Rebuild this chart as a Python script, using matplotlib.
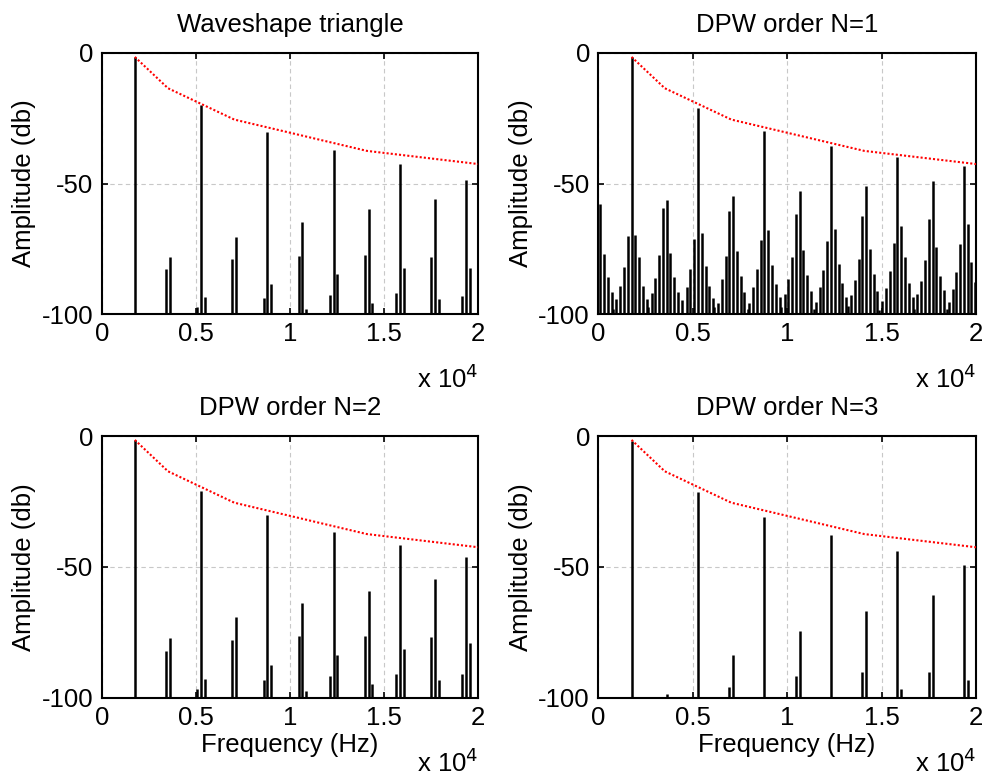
import matplotlib
matplotlib.use("Agg")
import matplotlib.pyplot as plt
from matplotlib.ticker import FuncFormatter, FixedLocator

plt.rcParams['font.family'] = ['Liberation Sans', 'DejaVu Sans']

titles = ["Waveshape triangle", "DPW order N=1", "DPW order N=2", "DPW order N=3"]

# Envelope (red dotted)
env_freq = [1760, 3520, 7040, 14080, 28160]
env_db = [-1.5, -13.5, -25.5, -37.5, -49.5]

# Panel 1: waveshaped triangle
tri_freq = [1760, 3420, 3620, 5080, 5280, 5480, 6940, 7140, 8600, 8800, 9000,
            10460, 10660, 10860, 12120, 12320, 12520, 13980, 14180, 14380,
            15640, 15840, 16040, 17500, 17700, 17900, 19160, 19360, 19560]
tri_db = [-1.4, -82.9, -78.3, -97.2, -19.9, -93.6, -78.9, -70.4, -94.0, -30.3, -88.5,
          -77.7, -64.6, -98.2, -92.6, -37.2, -84.8, -77.4, -59.9, -95.7,
          -92.1, -42.5, -82.4, -78.0, -55.8, -94.1, -93.2, -48.8, -82.5]

# Panel 2: DPW N=1
dpw1_freq = [100, 300, 500, 700, 780, 960, 1160, 1360, 1560, 1760, 1960, 2160, 2360,
             2560, 2620, 2820, 3020, 3220, 3420, 3620, 3820, 4020, 4220, 4420, 4680,
             4880, 5080, 5280, 5480, 5680, 5880, 6080, 6140, 6340, 6540, 6740, 6940,
             7140, 7340, 7540, 7740, 7940, 8000, 8200, 8400, 8600, 8800, 9000, 9200,
             9400, 9600, 9700, 9860, 10060, 10260, 10460, 10660, 10860, 11060, 11260,
             11440, 11520, 11720, 11920, 12120, 12320, 12520, 12720, 12920, 13120,
             13200, 13380, 13580, 13780, 13980, 14180, 14380, 14580, 14780, 14860,
             15040, 15240, 15440, 15640, 15840, 16040, 16240, 16440, 16640, 16700,
             16900, 17100, 17300, 17500, 17700, 17900, 18100, 18300, 18480, 18560,
             18760, 18960, 19160, 19360, 19560, 19760, 19960]
dpw1_db = [-57.7, -76.9, -85.9, -91.7, -98.0, -94.2, -89.1, -82.1, -70.3, -1.7, -69.6, -78.2, -89.1,
           -94.2, -97.4, -91.9, -86.2, -77.3, -59.2, -56.4, -76.7, -86.0, -91.7, -94.5, -89.5,
           -82.7, -71.2, -20.9, -69.0, -81.7, -89.1, -94.0, -97.4, -95.8, -86.5, -77.9, -60.5,
           -54.7, -75.9, -85.5, -91.5, -98.0, -95.6, -89.7, -82.7, -71.5, -29.8, -67.9, -81.2,
           -88.5, -93.6, -97.4, -92.3, -86.5, -78.2, -61.5, -52.9, -75.4, -84.9, -91.0,
           -98.0, -95.5, -89.7, -83.1, -72.1, -35.7, -67.3, -80.8, -88.2, -93.3,
           -97.0, -92.6, -87.0, -78.8, -62.6, -51.0, -75.0, -84.6, -91.0, -98.5,
           -95.1, -90.0, -83.6, -72.8, -40.0, -66.4, -78.0, -88.0, -93.6, -98.0,
           -92.3, -87.2, -79.2, -63.7, -49.0, -74.4, -85.3, -90.8, -98.0, -95.3,
           -90.4, -84.0, -73.3, -43.3, -65.4, -80.1, -87.8]

# Panel 3: DPW N=2
dpw2_freq = tri_freq
dpw2_db = [-1.7, -82.1, -77.4, -96.6, -21.0, -92.8, -78.0, -69.4, -93.2, -30.2, -87.5,
           -76.5, -63.8, -97.4, -91.7, -36.7, -83.8, -76.4, -59.1, -94.8,
           -90.9, -41.8, -81.4, -76.9, -54.7, -93.2, -91.2, -46.4, -79.0]

# Panel 4: DPW N=3
dpw3_freq = [1760, 3620, 5280, 6940, 7140, 8800, 10460, 10660, 12320, 13980, 14180,
             15840, 16040, 17500, 17700, 19360, 19560]
dpw3_db = [-1.9, -98.5, -21.3, -96.0, -83.8, -30.9, -91.7, -74.5, -37.9, -90.2, -67.1,
           -43.9, -96.6, -90.2, -60.7, -49.4, -93.4]

x_ticks = [0, 5000, 10000, 15000, 20000]
y_ticks = [-100, -50, 0]

panels = [(tri_freq, tri_db), (dpw1_freq, dpw1_db), (dpw2_freq, dpw2_db), (dpw3_freq, dpw3_db)]

W, H = 984, 776
fig = plt.figure(figsize=(W / 100, H / 100), dpi=100)
boxes = [(101.7, 53.0, 478.3, 314.0), (598.3, 53.0, 976.0, 314.0),
         (101.7, 436.0, 478.3, 697.5), (598.3, 436.0, 976.0, 697.5)]

FS = 18.5
for i, ((x0, y0, x1, y1), (fr, db)) in enumerate(zip(boxes, panels)):
    ax = fig.add_axes([x0 / W, 1 - y1 / H, (x1 - x0) / W, (y1 - y0) / H])
    ax.vlines(fr, -100, db, colors='black', linewidth=1.8, zorder=3)
    ax.plot(env_freq, env_db, color='red', linestyle=(0, (1, 1)), linewidth=1.5, zorder=4)
    ax.set_xlim(0, 20000)
    ax.set_ylim(-100, 0)
    ax.xaxis.set_major_locator(FixedLocator(x_ticks))
    ax.yaxis.set_major_locator(FixedLocator(y_ticks))
    ax.xaxis.set_major_formatter(FuncFormatter(lambda v, p: '%g' % (v / 1e4)))
    ax.yaxis.set_major_formatter(FuncFormatter(lambda v, p: '%g' % v))
    ax.tick_params(direction='in', top=True, right=True, length=4, width=1.2,
                   labelsize=FS, pad=6)
    ax.grid(True, color='#c8c8c8', linestyle=(0, (4, 3)), linewidth=0.8, zorder=0)
    ax.set_axisbelow(True)
    for s in ax.spines.values():
        s.set_linewidth(1.5)
    ax.set_title(titles[i], fontsize=FS, pad=15)
    ax.set_ylabel('Amplitude (db)', fontsize=FS, labelpad=4)
    if i >= 2:
        ax.set_xlabel('Frequency (Hz)', fontsize=FS, labelpad=2)
    ax.text(1.0, -0.25, r'x 10$^{4}$', transform=ax.transAxes, ha='right', va='center',
            fontsize=FS)

fig.savefig('out.png', dpi=100)
